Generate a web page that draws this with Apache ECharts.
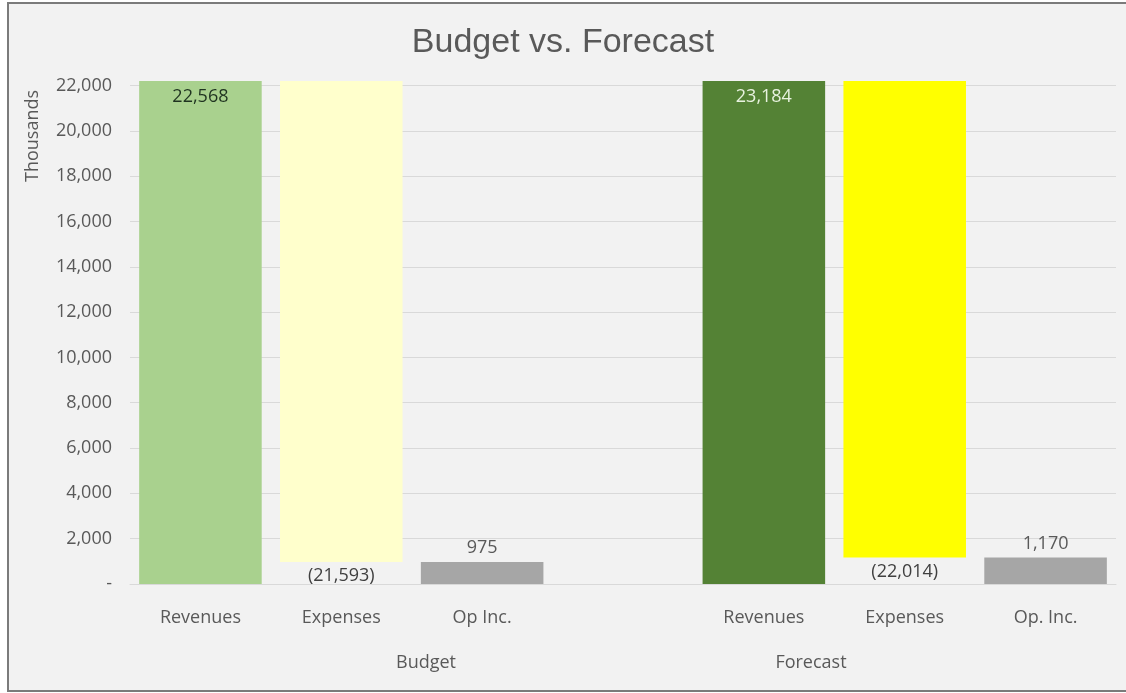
<!DOCTYPE html>
<html>
<head>
<meta charset="utf-8">
<script src="https://cdn.jsdelivr.net/npm/echarts@6/dist/echarts.min.js"></script>
<style>
  html, body { margin: 0; padding: 0; background: #ffffff; }
  #frame { position: absolute; left: 7px; top: 2px; width: 1130px; height: 686px;
           border: 2px solid #7b7b7b; background: #f2f2f2; }
  #chart { position: absolute; left: 0; top: 0; width: 1126px; height: 693px; }
</style>
</head>
<body>
<div id="frame"></div>
<div id="chart"></div>
<script>
// ---- data ----
const categories = ['Revenues', 'Expenses', 'Op Inc.', '', 'Revenues', 'Expenses', 'Op. Inc.'];
const groupNames = ['Budget', 'Forecast'];
const revenues = [22568, 23184];
const expenses = [21593, 22014];
const opIncome = [975, 1170];
const yMin = 0, yMax = 22200, yInterval = 2000;
const chartTitle = 'Budget vs. Forecast';
const axisName = 'Thousands';

// ---- styles ----
const revColors = ['#a9d18e', '#548235'];
const revLabelColors = ['#1f3320', '#e8f2df'];
const expColors = ['#ffffcc', '#ffff00'];
const opColor = '#a6a6a6';
const textColor = '#595959';
const font = '"Open Sans", "Noto Sans", sans-serif';

const fmt = v => Number(v).toLocaleString('en-US');

const baseData = [];
const valueData = [];
groupNames.forEach((g, i) => {
  if (i > 0) { baseData.push('-'); valueData.push('-'); }
  baseData.push(0, opIncome[i], 0);
  valueData.push(
    { value: revenues[i], itemStyle: { color: revColors[i] },
      label: { position: 'insideTop', distance: 7, color: revLabelColors[i] } },
    { value: expenses[i], itemStyle: { color: expColors[i] },
      label: { position: 'bottom', distance: 5, color: '#404040',
               formatter: p => '(' + fmt(p.value) + ')' } },
    { value: opIncome[i], itemStyle: { color: opColor },
      label: { position: 'top', distance: 5, color: textColor } }
  );
});

const chart = echarts.init(document.getElementById('chart'), null, { renderer: 'canvas' });
const option = {
  backgroundColor: 'transparent',
  animation: false,
  textStyle: { fontFamily: font },
  title: {
    text: chartTitle, left: 'center', top: 21,
    textStyle: { fontFamily: '"Liberation Sans", Arial, sans-serif', fontSize: 34,
                 fontWeight: 'normal', color: textColor }
  },
  grid: { left: 130, right: 10, top: 81, bottom: 109, containLabel: false },
  xAxis: {
    type: 'category', data: categories,
    axisTick: { show: false },
    axisLine: { lineStyle: { color: '#d9d9d9', width: 1 } },
    axisLabel: { fontSize: 18, color: textColor, margin: 25, fontFamily: font, interval: 0 },
    splitLine: { show: false }
  },
  yAxis: {
    type: 'value', min: yMin, max: yMax, interval: yInterval,
    axisLine: { show: false }, axisTick: { show: false },
    axisLabel: { fontSize: 18, color: textColor, margin: 18, fontFamily: font,
                 showMaxLabel: false,
                 formatter: v => v === 0 ? '-' : fmt(v) },
    splitLine: { showMaxLine: false, lineStyle: { color: '#d9d9d9', width: 1 } }
  },
  series: [
    { type: 'bar', stack: 'w', data: baseData, silent: true,
      itemStyle: { color: 'transparent' }, label: { show: false } },
    { type: 'bar', stack: 'w', data: valueData, barCategoryGap: '13%',
      label: { show: true, fontSize: 18, fontFamily: font, formatter: p => fmt(p.value) } }
  ],
  graphic: [
    { type: 'text', x: 33, y: 136, rotation: Math.PI / 2,
      style: { text: axisName, fontSize: 18, fontFamily: font, fill: textColor,
               align: 'center', verticalAlign: 'middle' } },
    { type: 'text', x: 426, y: 663,
      style: { text: groupNames[0], fontSize: 18, fontFamily: font, fill: textColor,
               align: 'center', verticalAlign: 'middle' } },
    { type: 'text', x: 811, y: 663,
      style: { text: groupNames[1], fontSize: 18, fontFamily: font, fill: textColor,
               align: 'center', verticalAlign: 'middle' } }
  ]
};
chart.setOption(option);
</script>
</body>
</html>
